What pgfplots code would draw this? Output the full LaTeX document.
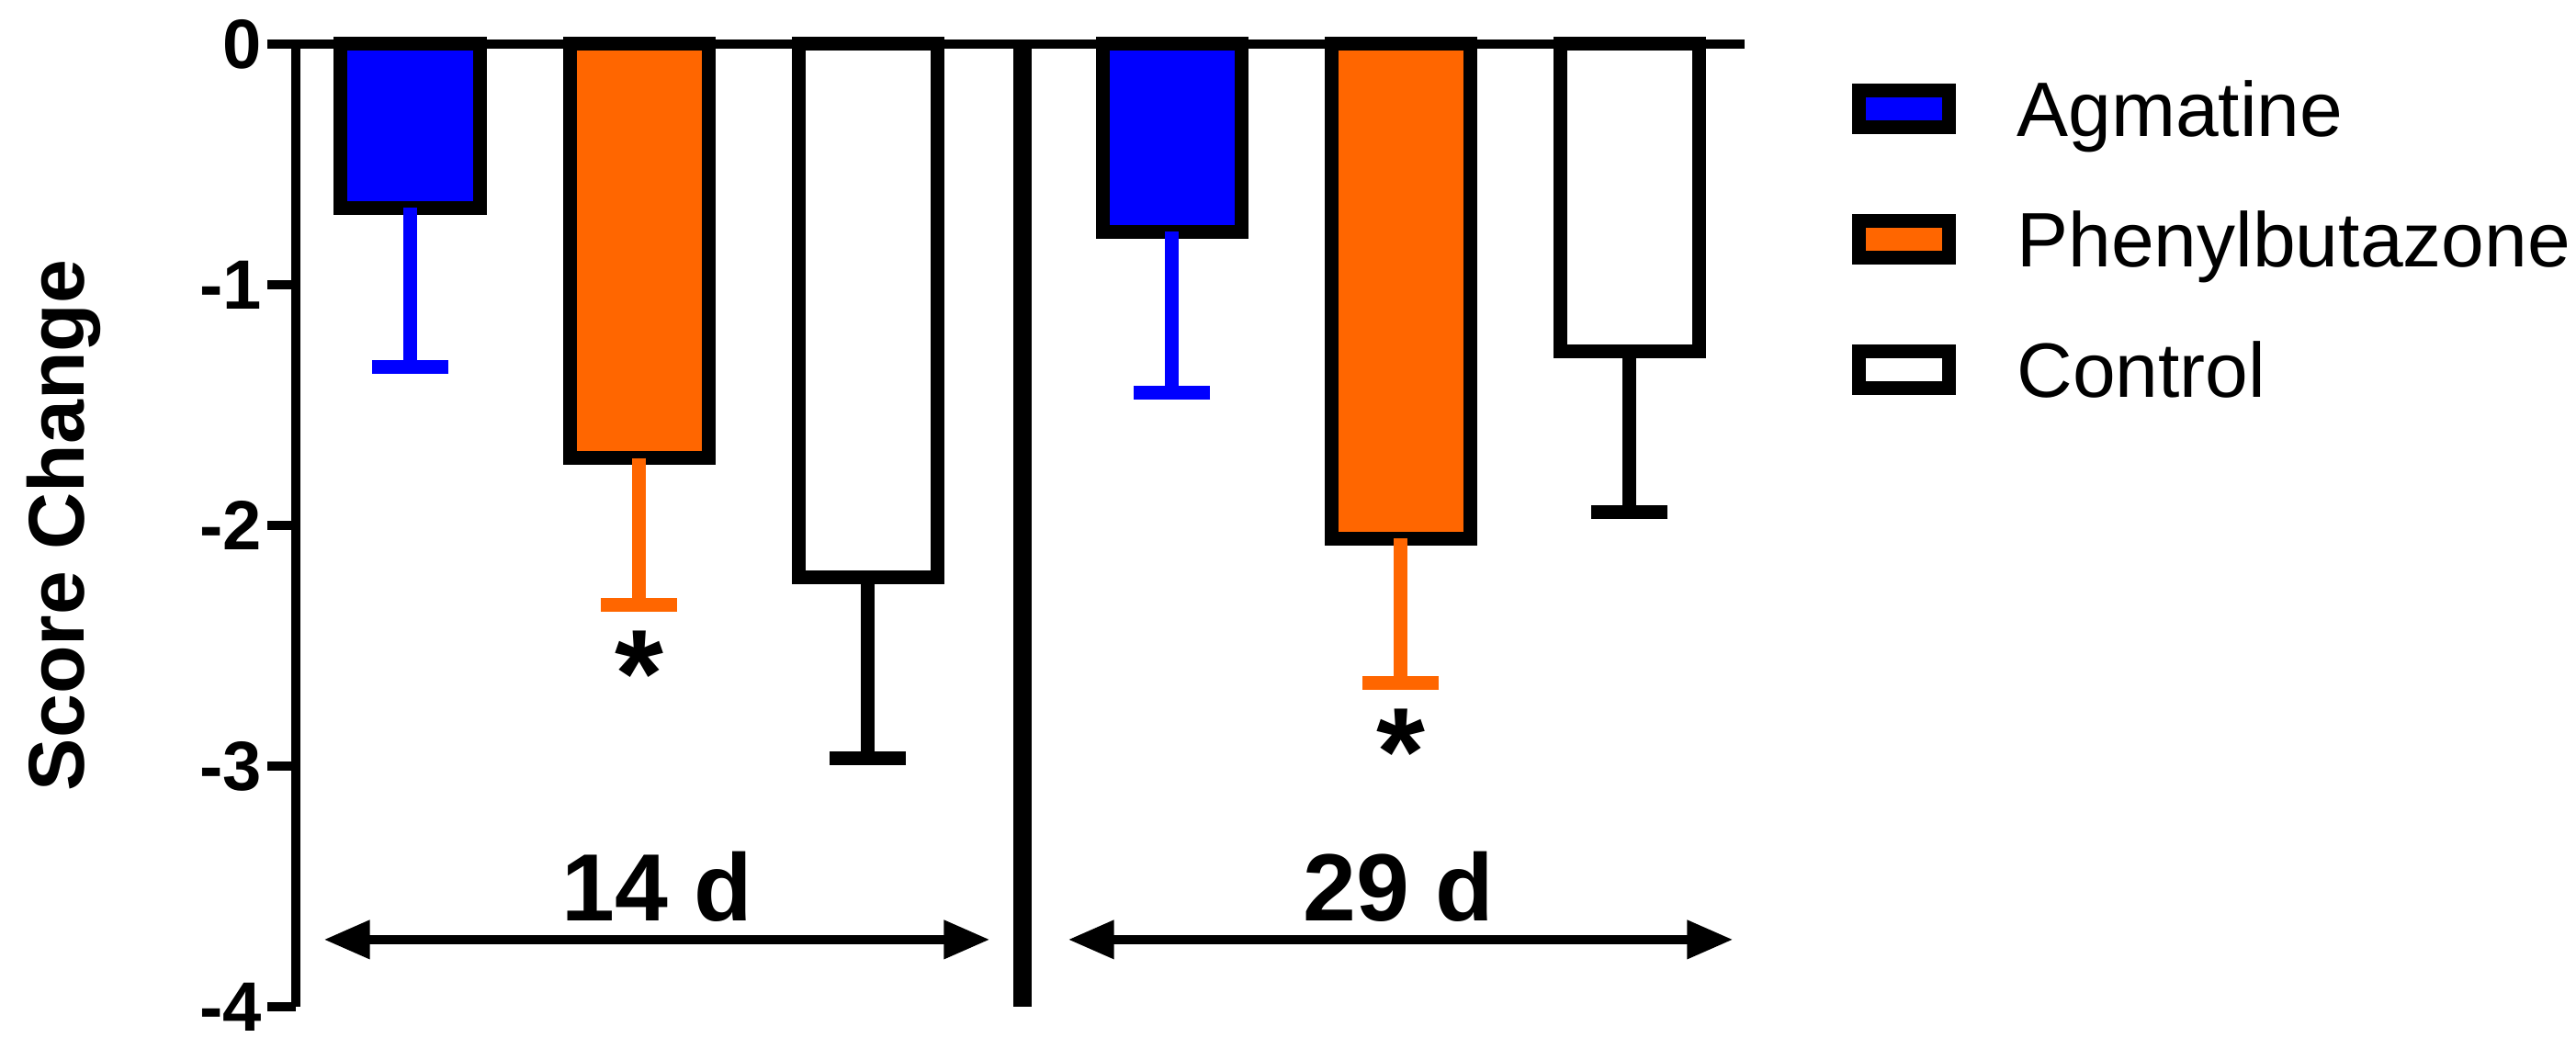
\documentclass[border=0pt]{standalone}
\usepackage{fontspec}
\setmainfont{Liberation Sans}
\usepackage{pgfplots}
\pgfplotsset{compat=1.18}
\usetikzlibrary{arrows.meta}
\definecolor{agblue}{RGB}{0,0,255}
\definecolor{pborange}{RGB}{255,102,0}
\pgfplotsset{myleg/.style={legend image code/.code={\draw[##1, draw=black, line width=3.75pt] (0pt,-5pt) rectangle (24.5pt,5pt);}}}
\begin{document}
\begin{tikzpicture}
\begin{axis}[
  name=ax,
  scale only axis,
  width=394.35pt, height=262pt,
  xmin=0.5, xmax=6.835, ymin=-4, ymax=0,
  enlargelimits=false,
  clip=false,
  axis x line=none,
  axis y line*=left,
  axis line style={line width=2.5pt, black},
  ytick={-4,-3,-2,-1,0},
  yticklabels={-4,-3,-2,-1,0},
  tick align=outside,
  major tick length=7.75pt,
  major tick style={line width=2.5pt, black},
  yticklabel style={font=\fontsize{19}{19}\selectfont\bfseries, inner sep=0pt, xshift=-1.25pt},
  ylabel={Score Change},
  every axis y label/.style={at={(axis cs:-0.424,-2)}, rotate=90, anchor=base, font=\fontsize{21.5}{21.5}\selectfont\bfseries},
  legend style={draw=none, fill=none, at={(axis cs:7.305,-0.1565)}, anchor=north west, inner sep=0pt, outer sep=0pt, row sep=20.5pt, column sep=16.5pt, font=\fontsize{21}{21}\selectfont, nodes={inner sep=0pt, text height=15pt, text depth=0pt}},
  legend cell align=left,
]
\addplot[ybar, bar width=37.75pt, bar shift=0pt, draw=black, fill=agblue, line width=3.75pt, myleg,
  error bars/y dir=minus, error bars/y explicit,
  error bars/error bar style={line width=3.75pt, agblue},
  error bars/error mark options={rotate=90, line width=3.75pt, agblue, mark size=10.4pt}]
coordinates {(1,-0.68) +- (0,0.66) (4.33,-0.78) +- (0,0.667)};
\addlegendentry{Agmatine}
\addplot[ybar, bar width=37.75pt, bar shift=0pt, draw=black, fill=pborange, line width=3.75pt, myleg,
  error bars/y dir=minus, error bars/y explicit,
  error bars/error bar style={line width=3.75pt, pborange},
  error bars/error mark options={rotate=90, line width=3.75pt, pborange, mark size=10.4pt}]
coordinates {(2,-1.72) +- (0,0.61) (5.33,-2.055) +- (0,0.60)};
\addlegendentry{Phenylbutazone}
\addplot[ybar, bar width=37.75pt, bar shift=0pt, draw=black, fill=white, line width=3.75pt, myleg,
  error bars/y dir=minus, error bars/y explicit,
  error bars/error bar style={line width=3.75pt, black},
  error bars/error mark options={rotate=90, line width=3.75pt, black, mark size=10.4pt}]
coordinates {(3,-2.216) +- (0,0.75) (6.33,-1.277) +- (0,0.666)};
\addlegendentry{Control}
\draw[line width=5pt] (axis cs:3.675,0) -- (axis cs:3.675,-4);
\draw[line width=2.5pt] ([xshift=-7.75pt]axis cs:0.5,0) -- (axis cs:6.835,0);
\draw[line width=2.5pt, {Triangle[length=12.5pt,width=10pt]}-{Triangle[length=12.5pt,width=10pt]}] (axis cs:0.6225,-3.721) -- (axis cs:3.534,-3.721);
\draw[line width=2.5pt, {Triangle[length=12.5pt,width=10pt]}-{Triangle[length=12.5pt,width=10pt]}] (axis cs:3.876,-3.721) -- (axis cs:6.783,-3.721);
\node[anchor=base, inner sep=0pt, font=\fontsize{26}{26}\selectfont\bfseries] at (axis cs:2.08,-3.645) {14 d};
\node[anchor=base, inner sep=0pt, font=\fontsize{26}{26}\selectfont\bfseries] at (axis cs:5.321,-3.645) {29 d};
\node[anchor=base, inner sep=0pt, font=\fontsize{34}{34}\selectfont\bfseries] at (axis cs:2,-2.795) {*};
\node[anchor=base, inner sep=0pt, font=\fontsize{34}{34}\selectfont\bfseries] at (axis cs:5.33,-3.121) {*};
\end{axis}
\pgfresetboundingbox
\path[use as bounding box] ([xshift=-80.5pt,yshift=12pt]ax.north west) rectangle ([xshift=620.5pt,yshift=-11.5pt]ax.south west);
\end{tikzpicture}
\end{document}
